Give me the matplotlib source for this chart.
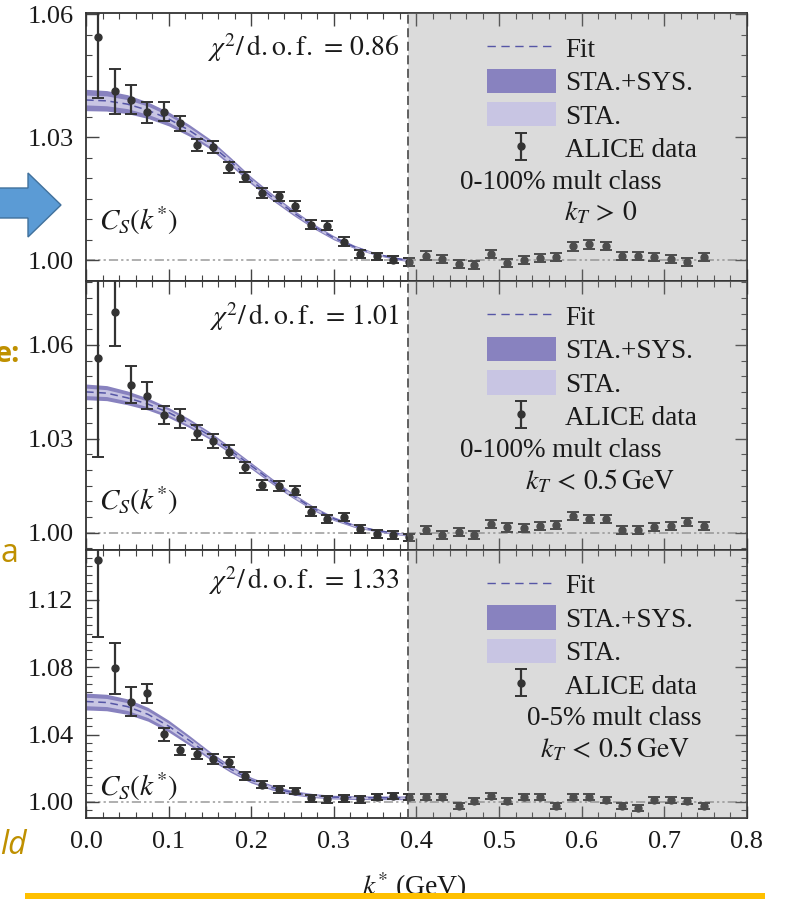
import numpy as np
import matplotlib
matplotlib.use('Agg')
import matplotlib.pyplot as plt
from matplotlib.patches import Patch, Polygon, Rectangle
from matplotlib.lines import Line2D
from matplotlib.ticker import MultipleLocator, FormatStrFormatter

plt.rcParams['font.family'] = ['Liberation Serif', 'DejaVu Serif']
plt.rcParams['mathtext.fontset'] = 'stix'

# k* bin centres (GeV)
k_star = [0.015, 0.035, 0.054, 0.074, 0.094, 0.114, 0.134, 0.154, 0.173, 0.193,
          0.213, 0.233, 0.253, 0.272, 0.292, 0.312, 0.332, 0.352, 0.371, 0.391,
          0.411, 0.431, 0.451, 0.470, 0.490, 0.510, 0.530, 0.550, 0.569, 0.589,
          0.609, 0.629, 0.649, 0.668, 0.688, 0.708, 0.728, 0.748]

# ALICE data, 0-100% mult, kT > 0
cf_mb = [1.0545, 1.0412, 1.0392, 1.0361, 1.0363, 1.0334, 1.0282, 1.0276, 1.0227, 1.0203,
         1.0165, 1.0156, 1.0132, 1.0087, 1.0085, 1.0046, 1.0016, 1.0010, 1.0002, 0.9996,
         1.0012, 1.0004, 0.9992, 0.9988, 1.0016, 0.9994, 1.0002, 1.0006, 1.0008, 1.0034,
         1.0039, 1.0035, 1.0010, 1.0010, 1.0008, 1.0004, 0.9996, 1.0008]
err_mb = [0.0150, 0.0055, 0.0035, 0.0025, 0.0022, 0.0018, 0.0015, 0.0015, 0.0013, 0.0013,
          0.0012, 0.0012, 0.0012, 0.0011, 0.0011, 0.0010, 0.0010, 0.0009, 0.0009, 0.0009,
          0.0010, 0.0010, 0.0010, 0.0010, 0.0010, 0.0010, 0.0010, 0.0010, 0.0010, 0.0010,
          0.0010, 0.0010, 0.0010, 0.0010, 0.0010, 0.0010, 0.0010, 0.0010]

# 0-100% mult, kT < 0.5 GeV
cf_lowkt = [1.0558, 1.0706, 1.0473, 1.0438, 1.0376, 1.0366, 1.0320, 1.0294, 1.0259, 1.0209,
            1.0153, 1.0149, 1.0135, 1.0067, 1.0043, 1.0051, 1.0012, 0.9996, 0.9993, 0.9985,
            1.0008, 0.9992, 1.0003, 0.9992, 1.0027, 1.0017, 1.0016, 1.0021, 1.0026, 1.0053,
            1.0043, 1.0043, 1.0008, 1.0008, 1.0019, 1.0021, 1.0035, 1.0022]
err_lowkt = [0.0317, 0.0110, 0.0060, 0.0042, 0.0030, 0.0030, 0.0025, 0.0022, 0.0020, 0.0018,
             0.0016, 0.0016, 0.0015, 0.0014, 0.0013, 0.0012, 0.0012, 0.0012, 0.0012, 0.0012,
             0.0013, 0.0013, 0.0013, 0.0013, 0.0013, 0.0013, 0.0013, 0.0013, 0.0013, 0.0013,
             0.0013, 0.0013, 0.0013, 0.0013, 0.0013, 0.0013, 0.0013, 0.0013]

# 0-5% mult, kT < 0.5 GeV
cf_central = [1.1435, 1.0793, 1.0596, 1.0646, 1.0401, 1.0308, 1.0282, 1.0252, 1.0236, 1.0153,
              1.0103, 1.0074, 1.0064, 1.0020, 1.0014, 1.0020, 1.0016, 1.0028, 1.0034, 1.0028,
              1.0028, 1.0028, 0.9974, 1.0004, 1.0034, 1.0004, 1.0030, 1.0030, 0.9974, 1.0030,
              1.0030, 1.0010, 0.9974, 0.9964, 1.0010, 1.0010, 1.0004, 0.9978]
err_central = [0.0457, 0.0150, 0.0085, 0.0057, 0.0040, 0.0030, 0.0030, 0.0030, 0.0030, 0.0022,
               0.0020, 0.0020, 0.0020, 0.0020, 0.0020, 0.0020, 0.0020, 0.0020, 0.0020, 0.0020,
               0.0018, 0.0018, 0.0018, 0.0018, 0.0018, 0.0018, 0.0018, 0.0018, 0.0018, 0.0018,
               0.0018, 0.0018, 0.0018, 0.0018, 0.0018, 0.0018, 0.0018, 0.0018]

k_fit = [0.0, 0.025, 0.05, 0.075, 0.1, 0.125, 0.15, 0.175, 0.2,
         0.225, 0.25, 0.275, 0.3, 0.325, 0.35, 0.375, 0.39]
fit_mb = [1.0391, 1.0389, 1.0381, 1.0366, 1.0345, 1.0317, 1.0284, 1.0241, 1.0195,
          1.0155, 1.0118, 1.0084, 1.0055, 1.0033, 1.0016, 1.0005, 1.0000]
fit_lowkt = [1.0450, 1.0446, 1.0431, 1.0411, 1.0384, 1.0350, 1.0310, 1.0263, 1.0214,
             1.0165, 1.0119, 1.0078, 1.0045, 1.0022, 1.0008, 0.9998, 0.9993]
fit_central = [1.0596, 1.0590, 1.0566, 1.0520, 1.0450, 1.0365, 1.0275, 1.0195, 1.0129,
               1.0085, 1.0054, 1.0037, 1.0028, 1.0025, 1.0024, 1.0024, 1.0024]
# half widths of the STA.+SYS. and STA. bands
sys_mb = [0.0026, 0.0025, 0.0023, 0.0020, 0.0017, 0.0014, 0.0012, 0.0010, 0.0009,
          0.0008, 0.0007, 0.0006, 0.0005, 0.0004, 0.0003, 0.0003, 0.0003]
sta_mb = [0.0012, 0.0012, 0.0011, 0.0010, 0.0008, 0.0007, 0.0006, 0.0005, 0.0004,
          0.0004, 0.0003, 0.0003, 0.0002, 0.0002, 0.0002, 0.0001, 0.0001]
sys_lowkt = [0.0025, 0.0024, 0.0022, 0.0019, 0.0016, 0.0014, 0.0012, 0.0011, 0.0010,
             0.0009, 0.0008, 0.0007, 0.0006, 0.0005, 0.0004, 0.0004, 0.0004]
sta_lowkt = [0.0012, 0.0011, 0.0010, 0.0009, 0.0008, 0.0007, 0.0006, 0.0005, 0.0005,
             0.0004, 0.0004, 0.0003, 0.0003, 0.0002, 0.0002, 0.0002, 0.0002]
sys_central = [0.0050, 0.0049, 0.0046, 0.0041, 0.0035, 0.0029, 0.0024, 0.0020, 0.0017,
               0.0015, 0.0013, 0.0012, 0.0011, 0.0011, 0.0011, 0.0011, 0.0011]
sta_central = [0.0025, 0.0024, 0.0023, 0.0020, 0.0017, 0.0014, 0.0012, 0.0010, 0.0008,
               0.0007, 0.0006, 0.0006, 0.0005, 0.0005, 0.0005, 0.0005, 0.0005]

chi2_labels = ['0.86', '1.01', '1.33']
mult_labels = ['0-100% mult class', '0-100% mult class', '0-5% mult class']
kt_labels = [r'$k_T\,>\,0$', r'$k_T\,<\,0.5\,\mathrm{GeV}$', r'$k_T\,<\,0.5\,\mathrm{GeV}$']
ylims = [(0.9949, 1.0603), (0.9946, 1.0803), (0.9904, 1.1498)]
yticks = [[1.00, 1.03, 1.06], [1.00, 1.03, 1.06], [1.00, 1.04, 1.08, 1.12]]

cf_sets = [cf_mb, cf_lowkt, cf_central]
err_sets = [err_mb, err_lowkt, err_central]
fit_sets = [fit_mb, fit_lowkt, fit_central]
sys_sets = [sys_mb, sys_lowkt, sys_central]
sta_sets = [sta_mb, sta_lowkt, sta_central]

c_sys = '#8882bf'
c_sta = '#c8c5e3'
c_fit = '#5656a6'
c_dat = '#333333'
txt = '#1a1a1a'

fig, axes = plt.subplots(3, 1, figsize=(7.98, 8.99), dpi=100, sharex=True)
fig.subplots_adjust(left=0.1078, right=0.936, top=0.9855, bottom=0.0901, hspace=0)

for i, ax in enumerate(axes):
    kf = np.array(k_fit)
    f = np.array(fit_sets[i])
    s1 = np.array(sys_sets[i])
    s2 = np.array(sta_sets[i])
    ax.fill_between(kf, f - s1, f + s1, color=c_sys, lw=0, zorder=2)
    ax.fill_between(kf, f - s2, f + s2, color=c_sta, lw=0, zorder=2.1)
    ax.plot(kf, f, ls=(0, (5, 3)), color=c_fit, lw=1.1, zorder=2.2)

    ax.axhline(1.0, color='#9a9a9a', lw=1.1, ls=(0, (6, 2, 1.5, 2, 1.5, 2)), zorder=1)
    eb = ax.errorbar(k_star, cf_sets[i], yerr=err_sets[i], fmt='o', ms=5,
                     color=c_dat, ecolor=c_dat, elinewidth=1.6, capsize=4,
                     capthick=1.4, zorder=3)
    # shaded region beyond the fit range
    ax.axvspan(0.39, 0.8, facecolor='#8a8a8a', alpha=0.3, lw=0, zorder=4)
    ax.axvline(0.39, color='#555555', lw=1.3, ls=(0, (5, 2.5)), zorder=5)

    ax.set_xlim(0.0, 0.8)
    ax.set_ylim(*ylims[i])
    ax.set_yticks(yticks[i])
    ax.xaxis.set_major_locator(MultipleLocator(0.1))
    ax.xaxis.set_minor_locator(MultipleLocator(0.02))
    ax.yaxis.set_minor_locator(MultipleLocator(0.005))
    ax.yaxis.set_major_formatter(FormatStrFormatter('%.2f'))
    ax.xaxis.set_major_formatter(FormatStrFormatter('%.1f'))
    ax.tick_params(which='both', direction='in', top=True, right=True,
                   color='#444444', labelsize=19, labelcolor=txt)
    ax.tick_params(which='major', length=9, width=1.0, pad=9)
    ax.tick_params(which='minor', length=4.5, width=0.8)
    for sp in ax.spines.values():
        sp.set_color('#333333')
        sp.set_linewidth(1.3)

    ax.text(0.474, [0.873, 0.87, 0.884][i],
            r'$\chi^2/\,\mathrm{d.o.f.}\,=\,$' + r'$\mathrm{' + chi2_labels[i] + '}$',
            transform=ax.transAxes, ha='right', va='center', fontsize=20, color=txt,
            zorder=6)
    ax.text(0.02, [0.228, 0.183, 0.118][i], r'$C_S(k^{*})$', transform=ax.transAxes,
            ha='left', va='center', fontsize=21, color=txt, zorder=6)

    handles = [Line2D([], [], ls=(0, (6, 4)), color=c_fit, lw=1.0),
               Patch(facecolor=c_sys, edgecolor='none'),
               Patch(facecolor=c_sta, edgecolor='none'),
               eb]
    ax.legend(handles, ['Fit', 'STA.+SYS.', 'STA.', 'ALICE data'],
              loc='upper left', bbox_to_anchor=(0.59, 0.957), frameon=False,
              fontsize=19.5, handlelength=2.55, handleheight=1.0, handletextpad=0.35,
              labelspacing=0.22, borderaxespad=0, labelcolor=txt)
    cx = [0.718, 0.718, 0.80][i]
    ax.text(cx, 0.37, mult_labels[i], transform=ax.transAxes, ha='center',
            va='center', fontsize=19.5, color=txt, zorder=6)
    ax.text([0.778, 0.778, 0.80][i], 0.255, kt_labels[i], transform=ax.transAxes,
            ha='center', va='center', fontsize=20, color=txt, zorder=6)

for ax in axes[:-1]:
    ax.tick_params(labelbottom=False)

fig.text(0.52, 1 - 887 / 899, r'$k^{*}$ (GeV)', ha='center', va='center',
         fontsize=20, color=txt)

# slide decorations around the figure
W, H = 798, 899
arrow_px = [(-5, 188), (28, 188), (28, 173), (61, 205), (28, 237), (28, 218), (-5, 218)]
fig.patches.append(Polygon([(x / W, 1 - y / H) for x, y in arrow_px], closed=True,
                           facecolor='#5b9bd5', edgecolor='#41719c', lw=1.0,
                           transform=fig.transFigure, figure=fig))
fig.patches.append(Rectangle((25 / W, 0), 740 / W, 6 / H, facecolor='#ffc000',
                             edgecolor='none', transform=fig.transFigure, figure=fig,
                             zorder=10))
gold = '#bf9000'
fig.text(-5 / W, 1 - 355 / H, 'e:', fontsize=21, fontweight='bold', color=gold,
         family=['Open Sans', 'DejaVu Sans'], ha='left', va='center')
fig.text(1 / W, 1 - 553 / H, 'a', fontsize=23, color=gold,
         family=['Open Sans', 'DejaVu Sans'], ha='left', va='center')
fig.text(0 / W, 1 - 845 / H, 'ld', fontsize=23, style='italic', color=gold,
         family=['Open Sans', 'DejaVu Sans'], ha='left', va='center')

fig.savefig('out.png', dpi=100)
